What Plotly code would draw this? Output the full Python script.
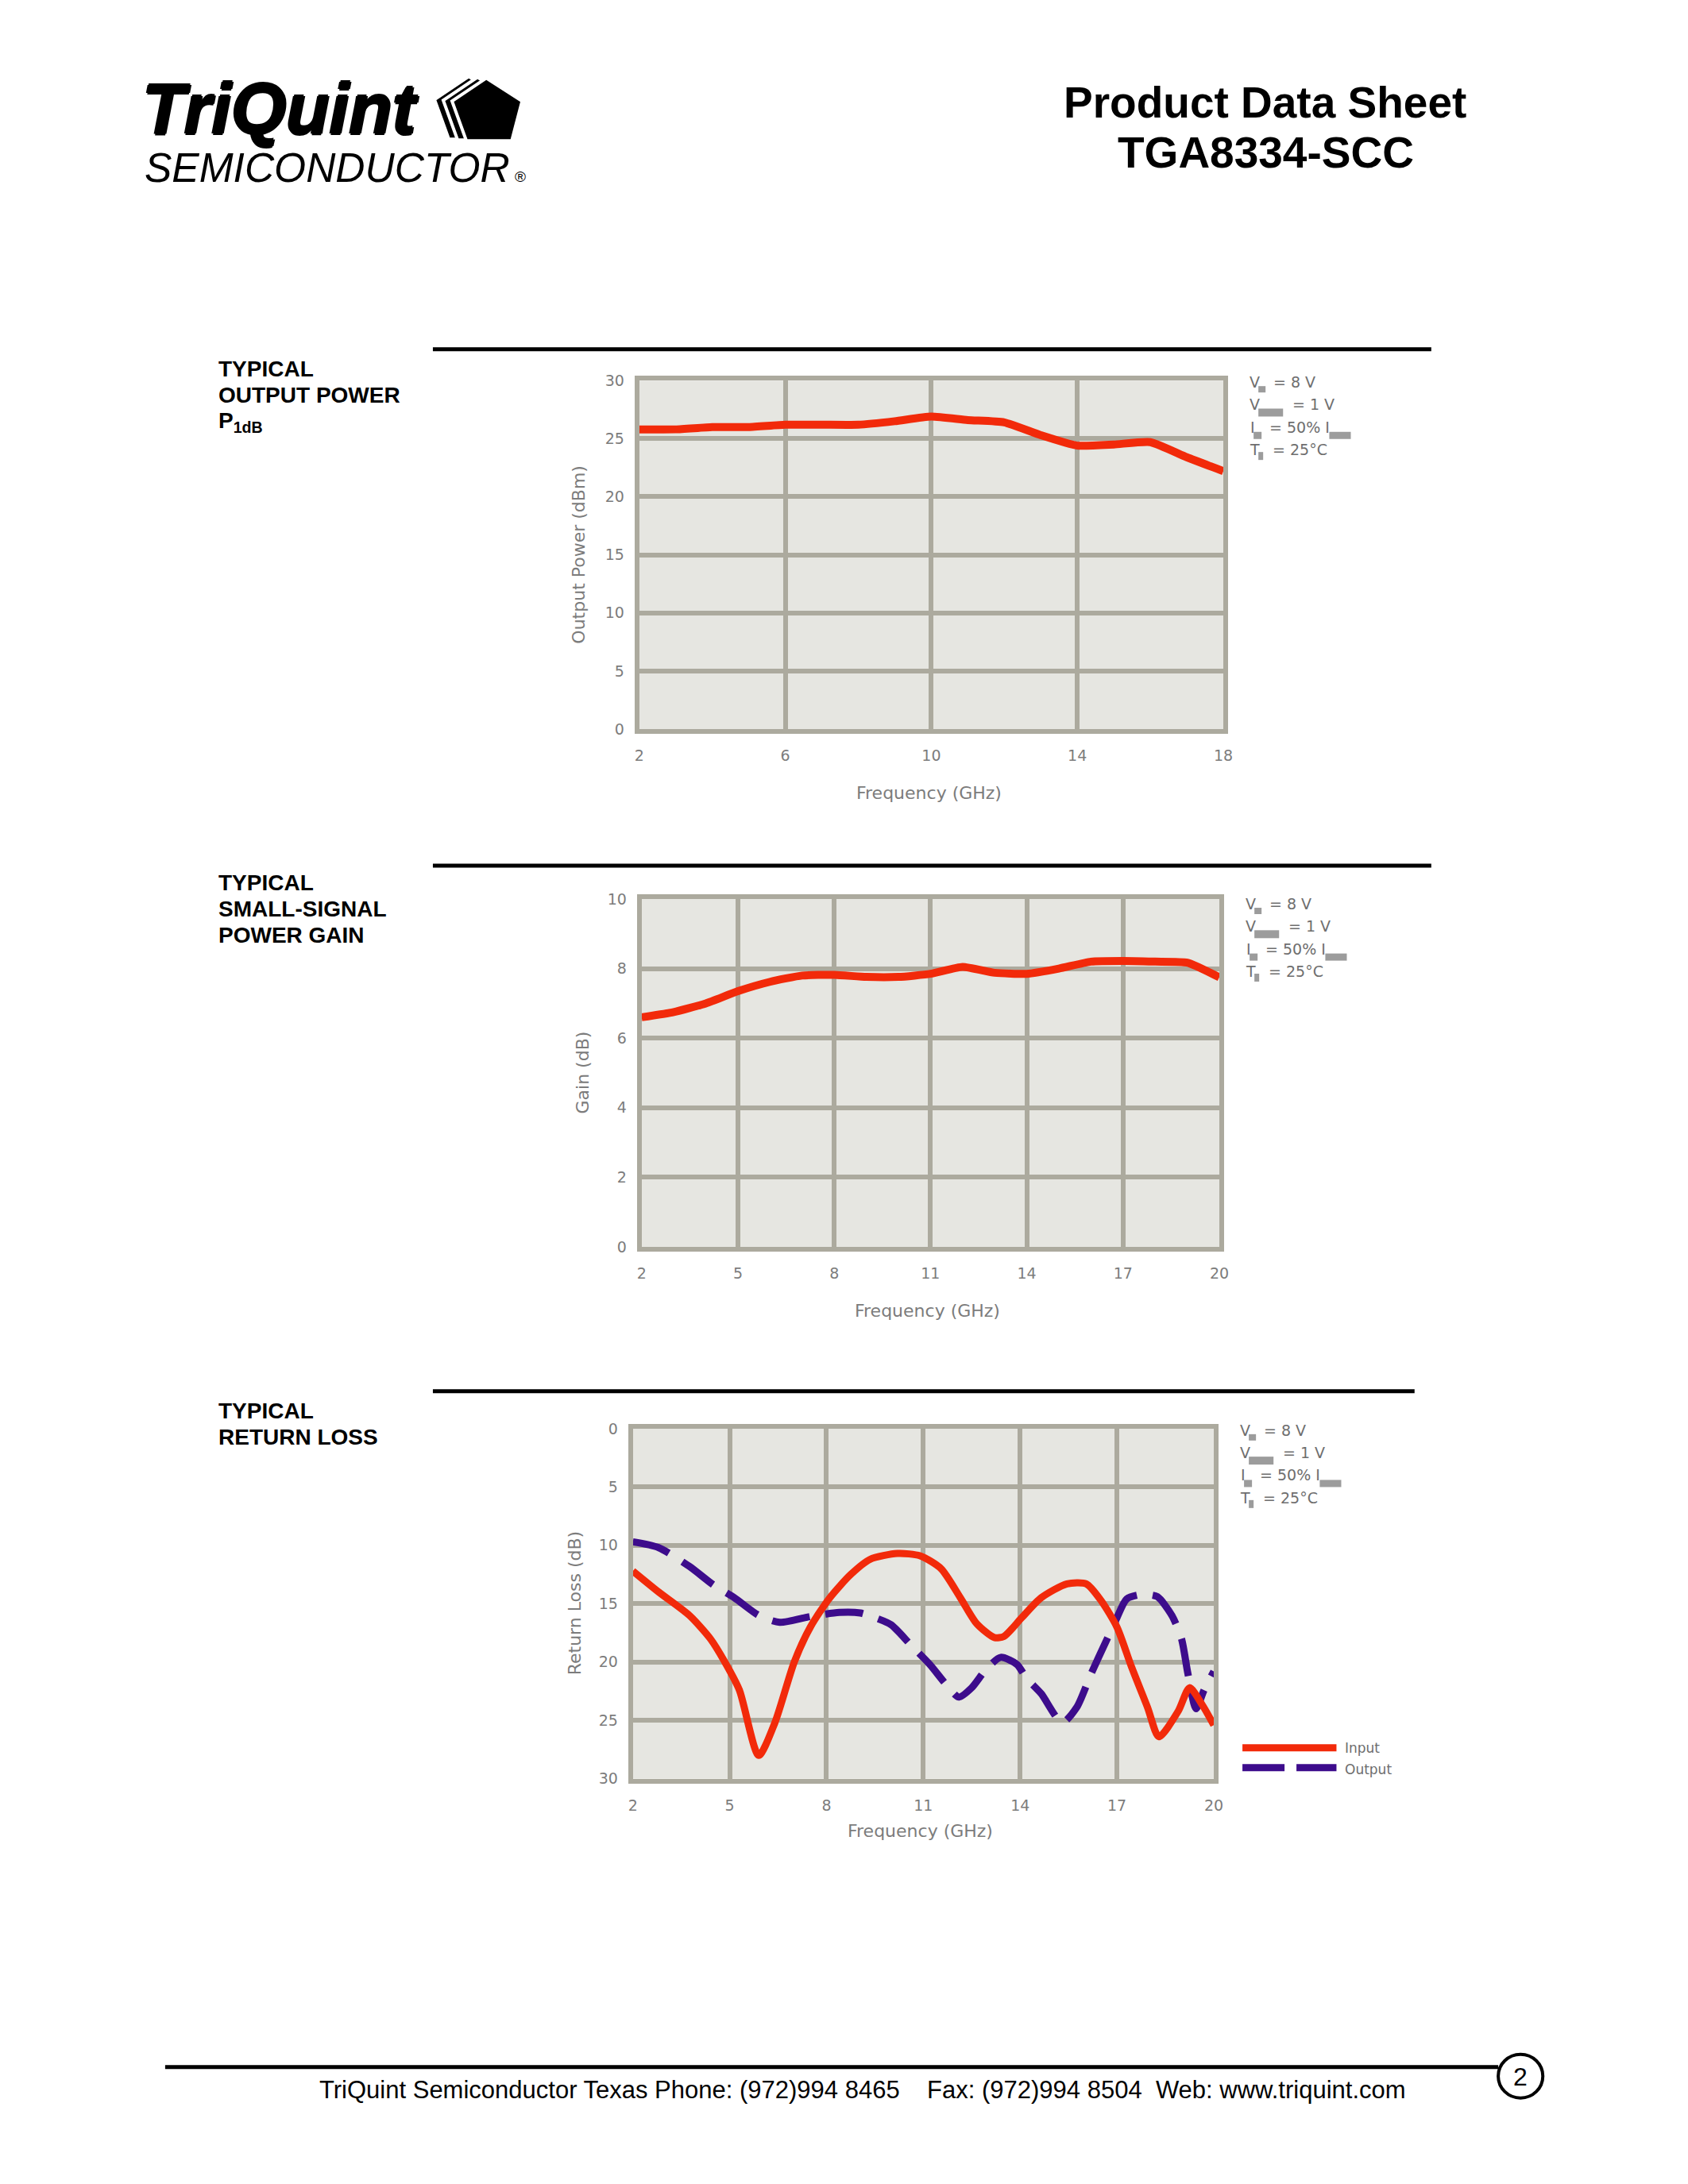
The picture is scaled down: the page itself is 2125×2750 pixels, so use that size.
import plotly.graph_objects as go

# figure size (page = figure + default 8px body margin on each side)
W, H = 2109, 2734
# empirical mapping from figure pixels to photographed pixels: shot = S * fig + OFF
SX, SY = 0.9884, 0.9922
OFFX, OFFY = 17.7, 17.7

# ---------------- data ----------------
freq_pout = [2, 3, 4, 5, 6, 7, 8, 9, 10, 11, 12, 13, 14, 15, 16, 17, 18]
pout_dbm = [25.8, 25.8, 26.0, 26.0, 26.2, 26.2, 26.2, 26.5, 26.9, 26.6, 26.4, 25.3, 24.4, 24.5, 24.7, 23.4, 22.2]

freq_gain = [2, 3, 4, 5, 6, 7, 8, 9, 10, 11, 12, 13, 14, 15, 16, 17, 18, 19, 20]
gain_db = [6.6, 6.75, 7.0, 7.35, 7.62, 7.8, 7.82, 7.76, 7.76, 7.85, 8.05, 7.88, 7.85, 8.0, 8.2, 8.22, 8.2, 8.17, 7.75]

freq_rl_in = [2.0, 2.8, 3.75, 4.4, 4.85, 5.3, 5.9, 6.4, 7.0, 7.5, 8.1, 8.75, 9.35, 10.2, 10.9, 11.55,
              12.15, 12.65, 13.2, 13.5, 14.05, 14.65, 15.45, 16.05, 16.5, 17.0, 17.45, 17.95, 18.3,
              18.9, 19.25, 19.65, 20.0]
rl_input = [12.2, 14.0, 16.0, 18.0, 20.0, 22.4, 28.0, 25.2, 20.0, 17.0, 14.5, 12.5, 11.2, 10.7, 10.9, 12.0,
            14.5, 16.7, 17.9, 17.8, 16.2, 14.5, 13.3, 13.3, 14.7, 17.0, 20.4, 23.9, 26.4,
            24.2, 22.2, 23.7, 25.4]

freq_rl_out = [2.0, 2.8, 3.75, 4.5, 5.15, 5.9, 6.55, 7.5, 8.4, 9.05, 9.4, 10.0, 10.6, 11.2, 11.7, 12.1,
               12.5, 12.95, 13.4, 13.9, 14.2, 14.65, 15.3, 15.75, 16.2, 16.7, 17.0, 17.3, 17.8, 18.25,
               18.7, 19.0, 19.2, 19.45, 19.7, 20.0]
rl_output = [9.7, 10.2, 11.8, 13.4, 14.5, 16.0, 16.6, 16.1, 15.75, 15.8, 16.1, 16.8, 18.5, 20.2, 21.9, 23.0,
             22.2, 20.6, 19.6, 20.2, 21.4, 22.7, 25.2, 23.9, 21.0, 18.0, 16.2, 14.6, 14.2, 14.4,
             16.0, 18.0, 21.0, 24.0, 22.4, 20.8]

p1_xticks = [2, 6, 10, 14, 18]
p1_yticks = [0, 5, 10, 15, 20, 25, 30]
p2_xticks = [2, 5, 8, 11, 14, 17, 20]
p2_yticks = [0, 2, 4, 6, 8, 10]
p3_xticks = [2, 5, 8, 11, 14, 17, 20]
p3_yticks = [0, 5, 10, 15, 20, 25, 30]

# ---------------- styling ----------------
RED = "#f22a0a"
PURPLE = "#3d0c8c"
GRID = "#acaa9e"
BG = "#e6e6e1"
TICKC = "#7c7c7c"
TXT = "Liberation Sans, Arial, sans-serif"
SMALL = "DejaVu Sans, Verdana, sans-serif"

# plot frame centre-lines in target (photographed) pixels (left, top, right, bottom)
BOX1 = (803, 475, 1542, 920)
BOX2 = (806, 1128, 1537, 1572)
BOX3 = (795, 1795, 1530, 2242)
FRAME = 6          # frame / grid line width
INSET = FRAME / 2  # axis lines are drawn just outside the domain


def fx(x):
    return ((x - OFFX) / SX) / W


def fy(y):
    return 1 - ((y - OFFY) / SY) / H


annotations = []
shapes = []


def ann(text, x, y, size, color="black", family=TXT, xanchor="left", yanchor="middle",
        angle=0, shadow="none"):
    annotations.append(dict(text=text, x=fx(x), y=fy(y), xref="paper", yref="paper",
                            xanchor=xanchor, yanchor=yanchor, showarrow=False, textangle=angle,
                            font=dict(size=size, color=color, family=family, shadow=shadow)))


def rect(x0, y0, x1, y1, color):
    shapes.append(dict(type="rect", xref="paper", yref="paper", x0=fx(x0), x1=fx(x1),
                       y0=fy(y1), y1=fy(y0), fillcolor=color, line=dict(width=0)))


def hline(x0, x1, y, width, color="black", dash="solid"):
    shapes.append(dict(type="line", xref="paper", yref="paper", x0=fx(x0), x1=fx(x1),
                       y0=fy(y), y1=fy(y), line=dict(color=color, width=width, dash=dash)))


def xaxis_cfg(box, ticks, rng, anchor):
    return dict(domain=[fx(box[0] + INSET), fx(box[2] - INSET)], range=rng, tickmode="array",
                tickvals=ticks, showgrid=True, gridcolor=GRID, gridwidth=FRAME, zeroline=False,
                showline=True, mirror=True, linecolor=GRID, linewidth=FRAME, ticks="",
                ticklabelstandoff=11, tickfont=dict(family=SMALL, size=19, color=TICKC),
                anchor=anchor, fixedrange=True)


def yaxis_cfg(box, ticks, rng, anchor):
    return dict(domain=[fy(box[3] - INSET), fy(box[1] + INSET)], range=rng, tickmode="array",
                tickvals=ticks, showgrid=True, gridcolor=GRID, gridwidth=FRAME, zeroline=False,
                showline=True, mirror=True, linecolor=GRID, linewidth=FRAME, ticks="",
                ticklabelstandoff=9, tickfont=dict(family=SMALL, size=19, color=TICKC),
                anchor=anchor, fixedrange=True)


fig = go.Figure()
fig.add_trace(go.Scatter(x=freq_pout, y=pout_dbm, mode="lines", xaxis="x", yaxis="y",
                         line=dict(color=RED, width=10, shape="spline", smoothing=0.5),
                         showlegend=False))
fig.add_trace(go.Scatter(x=freq_gain, y=gain_db, mode="lines", xaxis="x2", yaxis="y2",
                         line=dict(color=RED, width=10, shape="spline", smoothing=0.5),
                         showlegend=False))
fig.add_trace(go.Scatter(x=freq_rl_out, y=rl_output, mode="lines", xaxis="x3", yaxis="y3",
                         line=dict(color=PURPLE, width=9, shape="spline", smoothing=0.7, dash="48px,20px"),
                         showlegend=False, name="Output"))
fig.add_trace(go.Scatter(x=freq_rl_in, y=rl_input, mode="lines", xaxis="x3", yaxis="y3",
                         line=dict(color=RED, width=9, shape="spline", smoothing=0.7),
                         showlegend=False, name="Input"))

# ---------------- header ----------------
THICK = "1.6px 0 0 black, -1.6px 0 0 black, 0 1.6px 0 black, 0 -1.6px 0 black"
ann("<b><i>TriQuint</i></b>", 180, 136, 89, shadow=THICK)
ann("<i>SEMICONDUCTOR</i>", 183, 210, 51.5)
ann("®", 648, 221, 19)


def pent(dx, dy):
    pts = [(614, 97), (659, 126), (646, 176), (589, 176), (571, 126)]
    p = "M " + " L ".join(f"{fx(x + dx):.5f},{fy(y + dy):.5f}" for x, y in pts) + " Z"
    return dict(type="path", xref="paper", yref="paper", path=p, fillcolor="black",
                line=dict(color="white", width=4))


shapes.append(pent(-22, -2))
shapes.append(pent(-11, -1))
shapes.append(pent(0, 0))

ann("<b>Product Data Sheet</b>", 1591, 128, 55, xanchor="center")
ann("<b>TGA8334-SCC</b>", 1592, 191, 55, xanchor="center")

# ---------------- section labels & rules ----------------
SEC = 28
for t, y in [("TYPICAL", 463), ("OUTPUT POWER", 496), ("P<sub>1dB</sub>", 530)]:
    ann(f"<b>{t}</b>", 276, y, SEC)
for t, y in [("TYPICAL", 1110), ("SMALL-SIGNAL", 1143), ("POWER GAIN", 1176)]:
    ann(f"<b>{t}</b>", 276, y, SEC)
for t, y in [("TYPICAL", 1776), ("RETURN LOSS", 1809)]:
    ann(f"<b>{t}</b>", 276, y, SEC)

hline(547, 1800, 438.5, 5)
hline(547, 1800, 1089, 5)
hline(547, 1779, 1751, 5)

# ---------------- axis titles ----------------
AT = 22
ann("Output Power (dBm)", 730, 697, AT, color=TICKC, family=SMALL, xanchor="center", angle=-90)
ann("Frequency (GHz)", 1170, 997, AT, color=TICKC, family=SMALL, xanchor="center")
ann("Gain (dB)", 735, 1350, AT, color=TICKC, family=SMALL, xanchor="center", angle=-90)
ann("Frequency (GHz)", 1168, 1650, AT, color=TICKC, family=SMALL, xanchor="center")
ann("Return Loss (dB)", 725, 2018, AT, color=TICKC, family=SMALL, xanchor="center", angle=-90)
ann("Frequency (GHz)", 1159, 2305, AT, color=TICKC, family=SMALL, xanchor="center")

# ---------------- bias condition blocks ----------------
LEGC = "#6e6e6e"
BOXC = "#9c9c9c"


def bias_block(R, T0):
    c = [T0, T0 + 28.3, T0 + 56.6, T0 + 85]
    ann("V", R + 28, c[0], 19, color=LEGC, family=SMALL)
    rect(R + 41, c[0] + 5, R + 50, c[0] + 13, BOXC)
    ann("= 8 V", R + 58, c[0], 19, color=LEGC, family=SMALL)
    ann("V", R + 28, c[1], 19, color=LEGC, family=SMALL)
    rect(R + 41, c[1] + 5, R + 72, c[1] + 15, BOXC)
    ann("= 1 V", R + 82, c[1], 19, color=LEGC, family=SMALL)
    ann("I", R + 29, c[2], 19, color=LEGC, family=SMALL)
    rect(R + 35, c[2] + 6, R + 45, c[2] + 15, BOXC)
    ann("= 50% I", R + 53, c[2], 19, color=LEGC, family=SMALL)
    rect(R + 130, c[2] + 6, R + 157, c[2] + 15, BOXC)
    ann("T", R + 28, c[3], 19, color=LEGC, family=SMALL)
    rect(R + 41, c[3] + 3, R + 47, c[3] + 13, BOXC)
    ann("= 25°C", R + 57, c[3], 19, color=LEGC, family=SMALL)


bias_block(BOX1[2], BOX1[1] + 5)
bias_block(BOX2[2], BOX2[1] + 9)
bias_block(BOX3[2], BOX3[1] + 5)

# legend for return loss
hline(1563, 1681, 2200, 9, color=RED)
hline(1563, 1681, 2225, 9, color=PURPLE, dash="53px,15px")
ann("Input", 1690, 2200, 17, color=LEGC, family=SMALL)
ann("Output", 1690, 2227, 17, color=LEGC, family=SMALL)

# ---------------- footer ----------------
hline(211, 1884, 2602, 5)
shapes.append(dict(type="circle", xref="paper", yref="paper", x0=fx(1884), x1=fx(1940),
                   y0=fy(2641), y1=fy(2586), line=dict(color="black", width=4)))
ann("2", 1912, 2614, 32, xanchor="center")
NB = "\u00a0"
footer = ("TriQuint Semiconductor Texas Phone: (972)994 8465" + NB * 4 +
          "Fax: (972)994 8504" + NB * 2 + "Web: www.triquint.com")
ann(footer, 1086, 2631, 31, xanchor="center")

fig.update_layout(
    width=W, height=H, margin=dict(l=0, r=0, t=0, b=0),
    paper_bgcolor="white", plot_bgcolor=BG, showlegend=False,
    xaxis=xaxis_cfg(BOX1, p1_xticks, [2, 18], "y"),
    yaxis=yaxis_cfg(BOX1, p1_yticks, [0, 30], "x"),
    xaxis2=xaxis_cfg(BOX2, p2_xticks, [2, 20], "y2"),
    yaxis2=yaxis_cfg(BOX2, p2_yticks, [0, 10], "x2"),
    xaxis3=xaxis_cfg(BOX3, p3_xticks, [2, 20], "y3"),
    yaxis3=yaxis_cfg(BOX3, p3_yticks, [30, 0], "x3"),
    annotations=annotations, shapes=shapes,
)

fig.write_html("out.html")
